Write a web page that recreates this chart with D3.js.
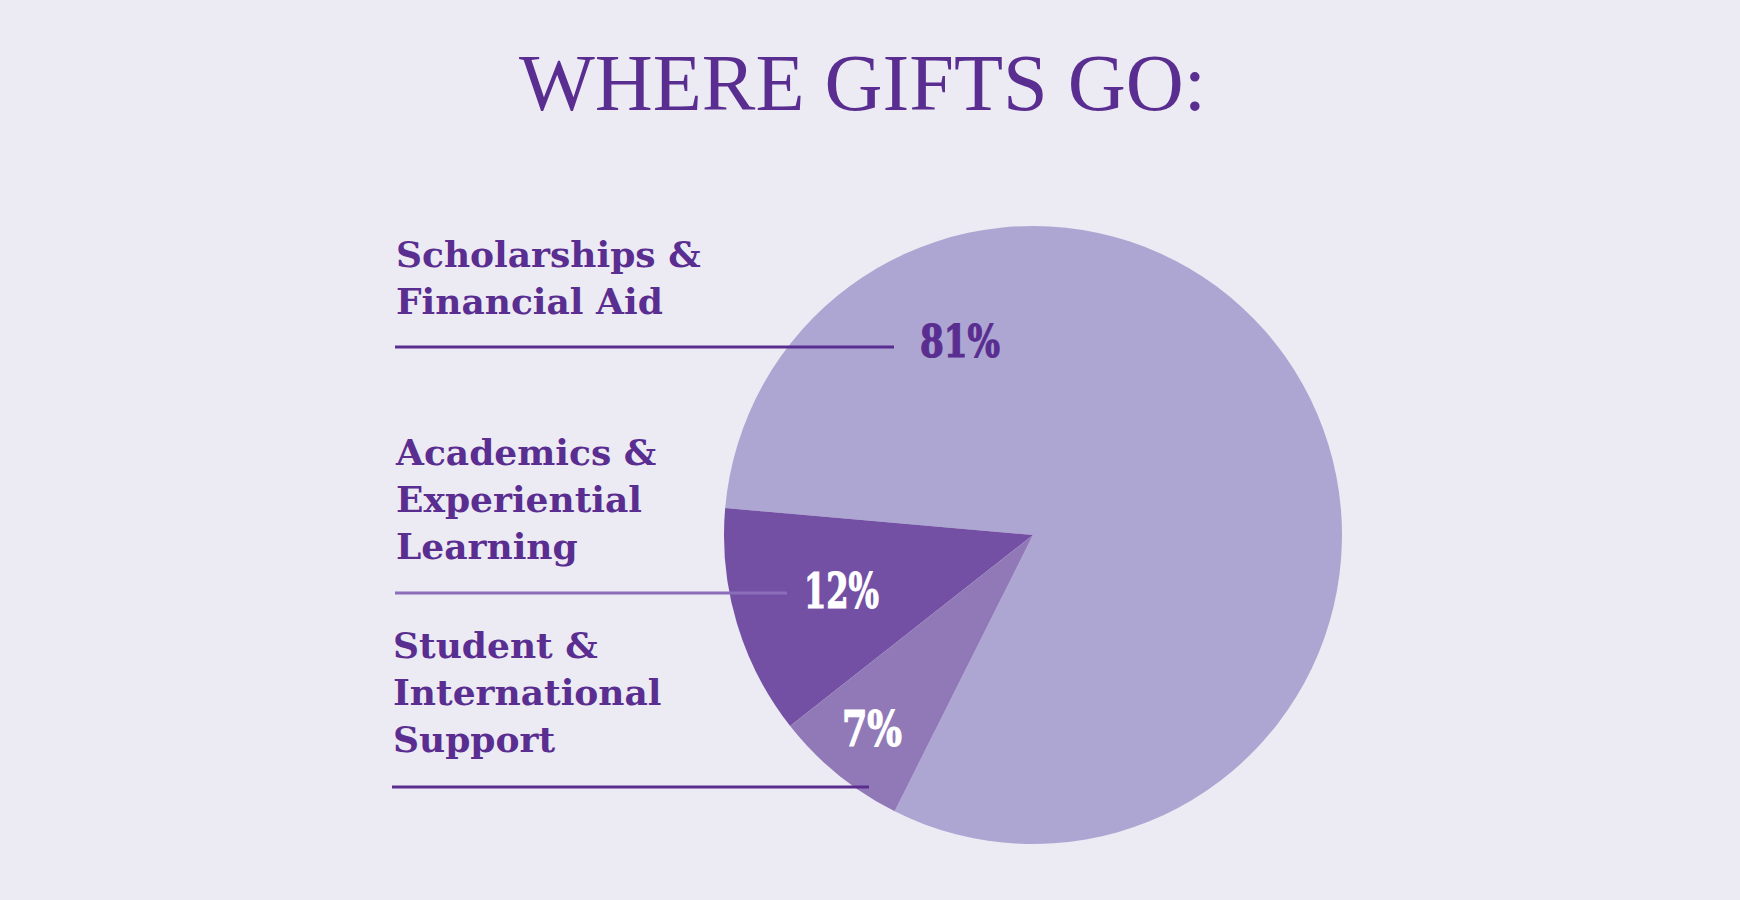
<!DOCTYPE html>
<html>
<head>
<meta charset="utf-8">
<script src="https://cdn.jsdelivr.net/npm/d3@7"></script>
<style>
  html, body { margin: 0; padding: 0; background: #ECEAF3; }
  svg { display: block; }
</style>
</head>
<body>
<svg id="chart" width="1740" height="900"></svg>
<script>
// Where gifts go: share of giving by area
const categories = ["Scholarships & Financial Aid", "Academics & Experiential Learning", "Student & International Support"];
const labelLines = [["Scholarships &", "Financial Aid"], ["Academics &", "Experiential", "Learning"], ["Student &", "International", "Support"]];
const shares = [81, 12, 7];
const valueLabels = ["81%", "12%", "7%"];
const sliceColors = ["#ADA6D2", "#7450A5", "#9179B7"];

const purple = "#5A2D91";
const svg = d3.select("#chart");
const W = 1740, H = 900;

svg.append("rect").attr("width", W).attr("height", H).attr("fill", "#ECEAF3");

// Title
svg.append("text")
  .attr("x", 519).attr("y", 110)
  .attr("font-family", "'Liberation Serif', serif")
  .attr("font-size", 80)
  .attr("textLength", 687)
  .attr("lengthAdjust", "spacingAndGlyphs")
  .attr("fill", purple)
  .text("WHERE GIFTS GO:");

// Pie, laid out counter-clockwise so the largest slice wraps the right side
const cx = 1033, cy = 535, R = 309;
const deg = Math.PI / 180;
const start = 206.6 * deg;
const pie = d3.pie().sort(null).value(d => d.value)
  .startAngle(start).endAngle(start - 2 * Math.PI);
const arc = d3.arc().innerRadius(0).outerRadius(R);

const data = shares.map((v, i) => ({ name: categories[i], value: v, color: sliceColors[i] }));

const g = svg.append("g").attr("transform", `translate(${cx},${cy})`);
g.selectAll("path")
  .data(pie(data))
  .join("path")
  .attr("d", arc)
  .attr("fill", d => d.data.color);

// Category labels with leader rules
const labelFont = "'DejaVu Serif', serif";
const blocks = [
  { x: 396, y: 267, lineY: 347, x1: 395, x2: 894, rule: purple },
  { x: 396, y: 465, lineY: 593, x1: 395, x2: 787, rule: "#8C6DBA" },
  { x: 393, y: 658, lineY: 787, x1: 392, x2: 869, rule: purple }
];
const lineGap = 47;

blocks.forEach((b, i) => {
  const t = svg.append("text")
    .attr("font-family", labelFont)
    .attr("font-weight", "bold")
    .attr("font-size", 36)
    .attr("fill", purple);
  labelLines[i].forEach((s, k) => {
    t.append("tspan").attr("x", b.x).attr("y", b.y + k * lineGap).text(s);
  });
  svg.append("line")
    .attr("x1", b.x1).attr("x2", b.x2)
    .attr("y1", b.lineY).attr("y2", b.lineY)
    .attr("stroke", b.rule).attr("stroke-width", 3);
});

// Percentage labels, set in a narrow heavy face
const valuePos = [
  { x: 920, y: 357, size: 45, width: 80, fill: purple },
  { x: 804, y: 608, size: 48, width: 75, fill: "#FFFFFF" },
  { x: 842, y: 746, size: 48, width: 60, fill: "#FFFFFF" }
];
valueLabels.forEach((v, i) => {
  const p = valuePos[i];
  svg.append("text")
    .attr("x", p.x).attr("y", p.y)
    .attr("font-family", "'DejaVu Serif Condensed', 'DejaVu Serif', serif")
    .attr("font-weight", "bold")
    .attr("font-size", p.size)
    .attr("textLength", p.width)
    .attr("lengthAdjust", "spacingAndGlyphs")
    .attr("stroke", p.fill)
    .attr("stroke-width", 1.2)
    .attr("fill", p.fill)
    .text(v);
});
</script>
</body>
</html>
